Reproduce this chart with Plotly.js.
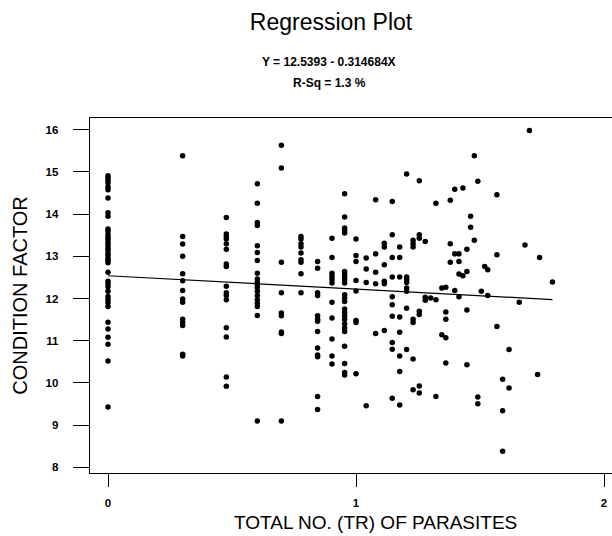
<!DOCTYPE html>
<html>
<head>
<meta charset="utf-8">
<script src="https://cdn.plot.ly/plotly-3.0.1.min.js"></script>
<style>
  html, body { margin: 0; padding: 0; background: #fff; }
  #chart { width: 612px; height: 536px; }
</style>
</head>
<body>
<div id="chart"></div>
<script>
// ---- Data ----
const chartTitle = "Regression Plot";
const xAxisTitle = "TOTAL NO. (TR) OF PARASITES";
const yAxisTitle = "CONDITION FACTOR";
const intercept = 12.5393;
const slope = -0.314684;
const rSq = 1.3;

const xTickVals = [0, 1, 2];
const yTickVals = [8, 9, 10, 11, 12, 13, 14, 15, 16];

// x positions of point columns
const columnX = [
  0, 0.301, 0.477, 0.602, 0.699, 0.778, 0.845, 0.903, 0.954, 1.0,
  1.041, 1.079, 1.114, 1.146, 1.176, 1.204, 1.230, 1.255, 1.279, 1.301,
  1.322, 1.346, 1.362, 1.380, 1.398, 1.415, 1.431, 1.447, 1.462, 1.477,
  1.491, 1.505, 1.519, 1.531, 1.568, 1.591, 1.617, 1.658, 1.681, 1.699,
  1.732, 1.740, 1.792
];
// condition factor values in each column
const columnY = [
  [14.91,14.86,14.80,14.74,14.64,14.58,14.38,14.03,13.95,13.65,13.60,13.52,13.45,13.40,13.33,13.27,13.20,13.15,13.08,13.02,12.95,12.90,12.85,12.62,12.41,12.35,12.28,12.17,12.05,11.98,11.90,11.81,11.44,11.28,11.08,10.92,10.52,9.43],
  [15.38,13.47,13.29,13.00,12.59,12.42,12.19,11.99,11.91,11.51,11.43,11.36,10.68,10.64],
  [13.92,13.53,13.47,13.41,13.30,13.17,12.82,12.76,12.29,12.14,12.07,11.97,11.31,11.09,10.14,9.92],
  [14.72,14.26,13.80,13.73,13.25,13.09,12.90,12.60,12.46,12.38,12.32,12.26,12.17,12.07,11.97,11.89,11.81,11.60,9.10],
  [15.63,15.09,12.86,12.14,11.66,11.59,11.21,11.17,9.10],
  [13.47,13.41,13.30,13.22,13.08,12.92,12.86,12.59,12.14],
  [12.88,12.72,12.14,12.07,11.59,11.51,11.46,11.22,10.83,10.66,10.62,9.68,9.37],
  [13.43,12.97,12.60,12.52,12.45,12.37,11.91,11.54,11.04,10.64,10.45],
  [14.48,13.93,13.67,13.61,13.55,12.64,12.59,12.52,12.45,12.37,12.09,12.01,11.93,11.75,11.67,11.59,11.51,11.40,11.30,11.22,10.87,10.46,10.25,10.19],
  [13.41,13.02,12.88,12.43,12.18,11.48,11.43,10.22],
  [12.96,12.70,12.38,9.46],
  [14.34,13.06,12.62,12.35,11.17],
  [13.31,13.22,12.80,12.41,12.35,11.24],
  [14.30,13.51,12.97,12.51,12.04,11.85,11.58,10.96,10.80,9.64],
  [13.22,12.97,12.51,11.56,11.20,10.64,10.27,9.48],
  [14.95,12.51,12.45,12.38,12.25,12.17,11.77,10.79],
  [13.38,13.30,13.22,11.51,11.43,10.57,9.84],
  [14.79,13.51,13.43,11.70,11.62,9.93,9.76],
  [13.35,12.03,11.96],
  [12.01],
  [14.26,11.97,9.68],
  [12.25,11.14],
  [12.27,11.68,11.51,11.07,10.47],
  [14.33,13.30,12.86],
  [14.59,13.06,12.19],
  [13.06,12.88,12.58,12.04],
  [14.62,12.54],
  [13.17,12.64,11.73,10.43],
  [13.95,13.69],
  [15.38,13.38],
  [14.78,9.67,9.51],
  [12.17],
  [12.76],
  [12.68,12.07],
  [14.46,13.04,11.34],
  [10.09,9.34,8.38],
  [10.79,9.88],
  [11.91],
  [13.27],
  [15.98],
  [10.20],
  [12.97],
  [12.39]
];

// ---- Build traces ----
const ptsX = [], ptsY = [];
columnX.forEach((x, i) => columnY[i].forEach(y => { ptsX.push(x); ptsY.push(y); }));

const xMin = Math.min(...ptsX), xMax = Math.max(...ptsX);
const lineX = [xMin, xMax];
const lineY = lineX.map(x => intercept + slope * x);

const FONT = "Liberation Sans, Arial, Helvetica, sans-serif";

const traces = [
  {
    type: "scatter", mode: "markers", x: ptsX, y: ptsY,
    marker: { color: "#000", size: 5.5, line: { width: 0 } },
    hoverinfo: "x+y", showlegend: false
  },
  {
    type: "scatter", mode: "lines", x: lineX, y: lineY,
    line: { color: "#000", width: 1.2 },
    hoverinfo: "skip", showlegend: false
  }
];

const eqText = "Y = " + intercept + " - " + Math.abs(slope) + "X";
const rText = "R-Sq = " + rSq + " %";

const layout = {
  width: 612, height: 536,
  paper_bgcolor: "#fff", plot_bgcolor: "#fff",
  margin: { l: 90, r: 0, t: 118, b: 63 },
  font: { family: FONT, color: "#000" },
  title: {
    text: chartTitle,
    font: { family: FONT, size: 23, color: "#000" },
    x: 331 / 612, xanchor: "center", xref: "container",
    y: 1 - 22 / 536, yanchor: "middle", yref: "container"
  },
  xaxis: {
    range: [-0.0726, 2.032],
    tickvals: xTickVals, ticktext: xTickVals.map(String),
    ticks: "outside", ticklen: 13, tickwidth: 1, tickcolor: "#000",
    tickfont: { family: FONT, size: 11.5, weight: "bold", color: "#000" },
    ticklabelstandoff: 6,
    showline: true, linecolor: "#000", linewidth: 1.3, mirror: true,
    showgrid: false, zeroline: false
  },
  yaxis: {
    range: [7.867, 16.277],
    tickvals: yTickVals, ticktext: yTickVals.map(String),
    ticks: "outside", ticklen: 16, tickwidth: 1, tickcolor: "#000",
    tickfont: { family: FONT, size: 11.5, weight: "bold", color: "#000" },
    ticklabelstandoff: 12,
    showline: true, linecolor: "#000", linewidth: 1.3, mirror: false,
    showgrid: false, zeroline: false,
    title: { text: yAxisTitle, font: { family: FONT, size: 20, color: "#000" }, standoff: 12 }
  },
  annotations: [
    { text: eqText, xref: "paper", yref: "paper", x: (329 - 90) / 522, y: (473 - 62) / 355,
      xanchor: "center", yanchor: "middle", showarrow: false,
      font: { family: FONT, size: 12, weight: "bold", color: "#000" } },
    { text: rText, xref: "paper", yref: "paper", x: (329 - 90) / 522, y: (473 - 83) / 355,
      xanchor: "center", yanchor: "middle", showarrow: false,
      font: { family: FONT, size: 12, weight: "bold", color: "#000" } },
    { text: xAxisTitle, xref: "paper", yref: "paper", x: (375 - 90) / 522, y: (473 - 522) / 355,
      xanchor: "center", yanchor: "middle", showarrow: false,
      font: { family: FONT, size: 19, color: "#000" } }
  ]
};

Plotly.newPlot("chart", traces, layout, { displayModeBar: false, staticPlot: true });
</script>
</body>
</html>
